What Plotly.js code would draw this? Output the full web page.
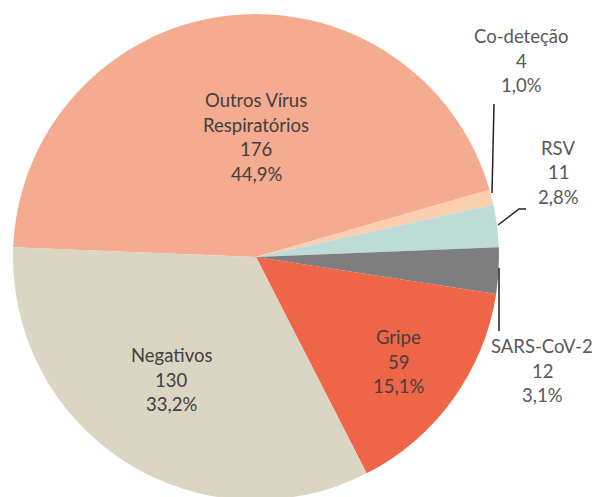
<!DOCTYPE html>
<html>
<head>
<meta charset="utf-8">
<script src="https://cdn.plot.ly/plotly-3.0.1.min.js"></script>
<style>
html,body{margin:0;padding:0;overflow:hidden;background:#fff;}
#chart{width:592px;height:514px;}
</style>
</head>
<body>
<div id="chart"></div>
<script>
// Data
const categories = ["Outros Vírus|Respiratórios", "Co-deteção", "RSV", "SARS-CoV-2", "Gripe", "Negativos"];
const values = [176, 4, 11, 12, 59, 130];
const colors = ["#F4AB8F", "#FBCFAE", "#BDDCD6", "#7E7E7E", "#EF6547", "#DAD6C3"];

const total = values.reduce((a, b) => a + b, 0);
const pct = values.map(v => (v / total * 100).toFixed(1).replace('.', ',') + '%');

// label placement (pixels in a 592 x 514 canvas): centre x, first line centre y
const W = 592, H = 514, LINE = 24.5;
const labelPos = [
  [256, 100], [521, 36], [558, 148], [542, 346], [398, 337], [171, 355]
];
const labelColor = ["#404040", "#595959", "#595959", "#595959", "#404040", "#404040"];

const annotations = [];
categories.forEach((c, i) => {
  const lines = c.split('|').concat([String(values[i]), pct[i]]);
  lines.forEach((t, k) => {
    annotations.push({
      xref: 'paper', yref: 'paper',
      x: labelPos[i][0] / W, y: 1 - (labelPos[i][1] + k * LINE) / H,
      xanchor: 'center', yanchor: 'middle',
      text: t, showarrow: false,
      font: {family: 'Lato, "Open Sans", sans-serif', size: 18.5, color: labelColor[i]}
    });
  });
});

function seg(pts) {
  return {
    type: 'path', xref: 'paper', yref: 'paper',
    path: 'M ' + pts.map(p => (p[0] / W) + ',' + (1 - p[1] / H)).join(' L '),
    line: {color: '#222222', width: 1.5}
  };
}
const shapes = [
  seg([[494, 104], [492, 193]]),
  seg([[498, 225], [519, 209], [526, 209]]),
  seg([[499, 268], [499, 331]])
];

const trace = {
  type: 'pie',
  labels: categories.map(c => c.replace('|', ' ')),
  values: values,
  sort: false,
  direction: 'clockwise',
  rotation: 272.3,
  marker: {colors: colors, line: {width: 0}},
  textinfo: 'none',
  hoverinfo: 'label+value+percent',
  showlegend: false,
  domain: {x: [13 / W, 499 / W], y: [1 - 500 / H, 1 - 14 / H]}
};

Plotly.newPlot('chart', [trace], {
  width: W, height: H,
  margin: {l: 0, r: 0, t: 0, b: 0},
  paper_bgcolor: '#ffffff',
  showlegend: false,
  annotations: annotations,
  shapes: shapes
}, {displayModeBar: false, staticPlot: true});
</script>
</body>
</html>
